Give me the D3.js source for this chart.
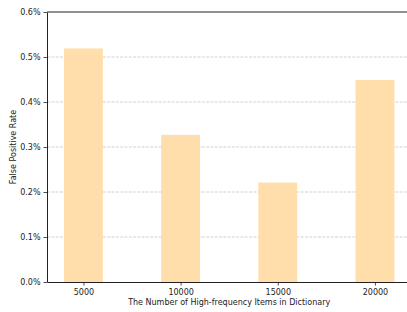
<!DOCTYPE html>
<html>
<head>
<meta charset="utf-8">
<script src="https://cdn.jsdelivr.net/npm/d3@7"></script>
<style>
  body { margin: 0; background: #fff; }
  svg { display: block; font-family: "DejaVu Sans", sans-serif; }
</style>
</head>
<body>
<svg id="chart" width="407" height="312"></svg>
<script>
const categories = ["5000", "10000", "15000", "20000"];
const rates = [0.519, 0.327, 0.221, 0.449];
const yTicks = [0, 0.1, 0.2, 0.3, 0.4, 0.5, 0.6];

const margin = { top: 12, right: 0, bottom: 30, left: 47 },
    width = 407 - margin.left - margin.right,
    height = 312 - margin.top - margin.bottom;

const x = d3.scaleLinear()
    .domain([-0.375, 3.33])
    .range([0, width]);
const barW = x(0.4) - x(0);

const y = d3.scaleLinear()
    .domain([0, 0.6])
    .range([height, 0]);

const svg = d3.select("#chart");
const g = svg.append("g")
    .attr("transform", "translate(" + margin.left + "," + margin.top + ")");

// grid
g.selectAll("line.grid")
    .data(yTicks.slice(1, -1))
    .enter().append("line")
    .attr("class", "grid")
    .attr("x1", 0).attr("x2", width)
    .attr("y1", d => y(d)).attr("y2", d => y(d))
    .attr("stroke", "#c8c8c8")
    .attr("stroke-width", 0.8)
    .attr("stroke-dasharray", "3,1.3");

g.selectAll("rect")
    .data(rates)
    .enter().append("rect")
    .attr("x", (d, i) => x(i) - barW / 2)
    .attr("y", d => y(d))
    .attr("width", barW)
    .attr("height", d => height - y(d))
    .attr("fill", "#ffdeab");

const xAxis = d3.axisBottom(x)
    .tickValues(d3.range(categories.length))
    .tickFormat(i => categories[i])
    .tickSizeInner(3.5).tickSizeOuter(0).tickPadding(4);

const yAxis = d3.axisLeft(y)
    .tickValues(yTicks)
    .tickFormat(d => d.toFixed(1) + "%")
    .tickSizeInner(3.5).tickSizeOuter(0).tickPadding(3);

const gx = g.append("g")
    .attr("transform", "translate(0," + height + ")")
    .call(xAxis);
const gy = g.append("g").call(yAxis);

[gx, gy].forEach(a => {
  a.selectAll("path").attr("stroke", "#222").attr("stroke-width", 1);
  a.selectAll("line").attr("stroke", "#222").attr("stroke-width", 0.8);
  a.selectAll("text").attr("fill", "#222").attr("font-size", "8px")
    .attr("font-family", "DejaVu Sans, sans-serif");
});

// top spine
g.append("line")
    .attr("x1", 0).attr("x2", width)
    .attr("y1", 0).attr("y2", 0)
    .attr("stroke", "#222").attr("stroke-width", 1);

svg.append("text")
    .attr("x", margin.left + x(1.5))
    .attr("y", 305)
    .attr("text-anchor", "middle")
    .attr("font-size", "8px")
    .attr("fill", "#222")
    .text("The Number of High-frequency Items in Dictionary");

svg.append("text")
    .attr("transform", "translate(16," + (margin.top + height / 2) + ") rotate(-90)")
    .attr("text-anchor", "middle")
    .attr("font-size", "8px")
    .attr("fill", "#222")
    .text("False Positive Rate");
</script>
</body>
</html>
